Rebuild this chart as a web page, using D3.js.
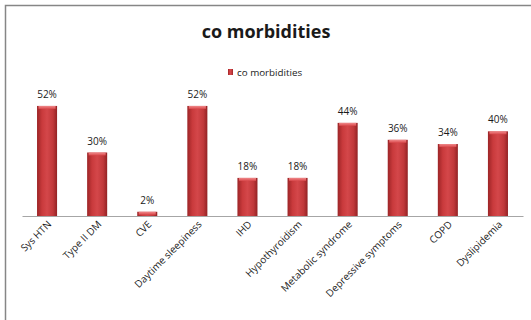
<!DOCTYPE html>
<html lang="en">
<head>
<meta charset="utf-8">
<title>co morbidities</title>
<script src="https://cdnjs.cloudflare.com/ajax/libs/d3/7.8.5/d3.min.js"></script>
<style>
  body { margin: 0; background: #fff; }
  text { font-family: "Open Sans", "DejaVu Sans", sans-serif; fill: #1a1a1a; }
</style>
</head>
<body>
<script>
// data
const categories = ["Sys HTN", "Type II DM", "CVE", "Daytime sleepiness", "IHD",
  "Hypothyroidism", "Metabolic syndrome", "Depressive symptoms", "COPD", "Dyslipidemia"];
const values = [52, 30, 2, 52, 18, 18, 44, 36, 34, 40];
const seriesName = "co morbidities";

const w = 531, h = 320;
const base = 216, left = 22, right = 523;

const svg = d3.select("body").append("svg")
  .attr("width", w).attr("height", h);

// chart frame (only top/left visible in the crop)
svg.append("path")
  .attr("d", "M5.5,320 V5.5 H531")
  .attr("fill", "none").attr("stroke", "#868686").attr("stroke-width", 1.5);

const defs = svg.append("defs");
const g1 = defs.append("linearGradient").attr("id", "barg");
g1.append("stop").attr("offset", "0%").attr("stop-color", "#9c2527");
g1.append("stop").attr("offset", "25%").attr("stop-color", "#c93a3c");
g1.append("stop").attr("offset", "50%").attr("stop-color", "#d4474a");
g1.append("stop").attr("offset", "80%").attr("stop-color", "#c0383a");
g1.append("stop").attr("offset", "100%").attr("stop-color", "#922224");

const g2 = defs.append("linearGradient").attr("id", "topg")
  .attr("x1", 0).attr("y1", 0).attr("x2", 0).attr("y2", 1);
g2.append("stop").attr("offset", "0%").attr("stop-color", "#f08a8b");
g2.append("stop").attr("offset", "100%").attr("stop-color", "#d9484b");

const x = d3.scaleBand().domain(categories).range([left, right]).paddingInner(0.6).paddingOuter(0.3);
const y = d3.scaleLinear().domain([0, 60]).range([base, 89]);

// title
svg.append("text").attr("x", 266).attr("y", 38).attr("text-anchor", "middle")
  .style("font-size", "18px").style("font-weight", "bold").text("co morbidities");

// legend
svg.append("rect").attr("x", 228).attr("y", 69).attr("width", 5).attr("height", 6)
  .attr("fill", "url(#barg)");
svg.append("text").attr("x", 237).attr("y", 75.5).style("font-size", "9.8px").text(seriesName);

// bars
const bars = svg.selectAll("g.bar").data(values).enter().append("g").attr("class", "bar");
bars.append("rect")
  .attr("x", (d, i) => x(categories[i]))
  .attr("y", d => y(d))
  .attr("width", x.bandwidth())
  .attr("height", d => base - y(d))
  .attr("fill", "url(#barg)");
bars.append("rect")
  .attr("x", (d, i) => x(categories[i]) + 1.5)
  .attr("y", d => y(d))
  .attr("width", x.bandwidth() - 3)
  .attr("height", d => Math.min(3, base - y(d)))
  .attr("fill", "url(#topg)");

// value labels
bars.append("text")
  .attr("x", (d, i) => x(categories[i]) + x.bandwidth() / 2)
  .attr("y", d => y(d) - 8)
  .attr("text-anchor", "middle")
  .style("font-size", "10px")
  .text(d => d + "%");

// category axis
const xAxis = svg.append("g").attr("transform", `translate(0,${base})`)
  .call(d3.axisBottom(x).tickSize(0).tickPadding(0));
xAxis.select(".domain").attr("stroke", "#a6a6a6").attr("stroke-width", 1.2);
xAxis.selectAll(".tick text")
  .attr("text-anchor", "end")
  .attr("dy", 0)
  .attr("transform", "translate(5,9) rotate(-45)")
  .style("font-family", "'Open Sans', 'DejaVu Sans', sans-serif")
  .style("font-size", "10px")
  .attr("fill", "#1a1a1a");
</script>
</body>
</html>
